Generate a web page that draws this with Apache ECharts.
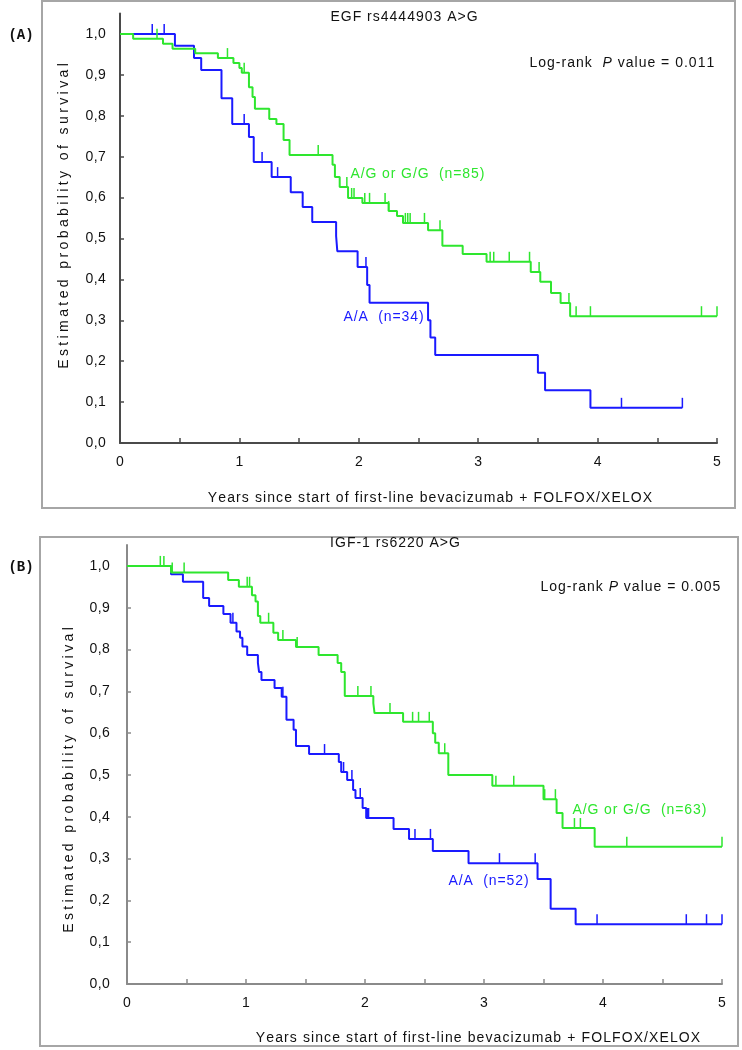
<!DOCTYPE html>
<html>
<head>
<meta charset="utf-8">
<script src="https://cdn.jsdelivr.net/npm/echarts@6/dist/echarts.min.js"></script>
<style>html,body{margin:0;padding:0;background:#fff}#c{width:742px;height:1050px}</style>
</head>
<body>
<div id="c"></div>
<script>
// ---------- axis ticks / labels ----------
const xTicks = [0, 0.5, 1, 1.5, 2, 2.5, 3, 3.5, 4, 4.5, 5];
const xLabels = [0, 1, 2, 3, 4, 5];
const yTicks = [0, 0.1, 0.2, 0.3, 0.4, 0.5, 0.6, 0.7, 0.8, 0.9, 1.0];

// ---------- Panel A: EGF rs4444903 ----------
const aGreenTime = [0, 0.11, 0.36, 0.44, 0.63, 0.82, 0.95, 1.00, 1.02, 1.08, 1.11, 1.13, 1.25, 1.31, 1.37, 1.42, 1.78, 1.80, 1.84, 1.91, 2.03, 2.25, 2.32, 2.37, 2.58, 2.70, 2.87, 3.07, 3.44, 3.52, 3.61, 3.69, 3.77, 5.00];
const aGreenSurv = [1.0, 0.988, 0.976, 0.964, 0.953, 0.941, 0.929, 0.917, 0.905, 0.87, 0.846, 0.817, 0.792, 0.78, 0.741, 0.704, 0.68, 0.65, 0.626, 0.599, 0.587, 0.567, 0.555, 0.538, 0.52, 0.482, 0.462, 0.443, 0.418, 0.394, 0.367, 0.342, 0.31, 0.31];
const aGreenCensor = [0.31, 0.90, 1.04, 1.66, 1.90, 1.94, 1.96, 2.05, 2.09, 2.22, 2.25, 2.39, 2.41, 2.43, 2.55, 2.68, 3.10, 3.13, 3.26, 3.43, 3.51, 3.61, 3.76, 3.82, 3.94, 4.87, 5.00];

const aBlueTime = [0, 0.46, 0.62, 0.68, 0.85, 0.94, 1.08, 1.12, 1.27, 1.43, 1.53, 1.61, 1.81, 1.82, 1.99, 2.07, 2.09, 2.58, 2.60, 2.64, 3.50, 3.56, 3.94, 4.71];
const aBlueSurv = [1.0, 0.971, 0.941, 0.912, 0.843, 0.78, 0.748, 0.687, 0.65, 0.613, 0.577, 0.54, 0.506, 0.469, 0.43, 0.386, 0.343, 0.30, 0.258, 0.215, 0.172, 0.129, 0.086, 0.086];
const aBlueCensor = [0.27, 0.37, 1.04, 1.19, 1.32, 2.06, 4.20, 4.71];

// ---------- Panel B: IGF-1 rs6220 ----------
const bGreenTime = [0, 0.37, 0.85, 0.94, 1.05, 1.08, 1.10, 1.12, 1.23, 1.27, 1.42, 1.61, 1.77, 1.80, 1.83, 2.07, 2.08, 2.32, 2.57, 2.59, 2.62, 2.70, 3.07, 3.50, 3.61, 3.66, 3.93, 5.00];
const bGreenSurv = [1.0, 0.984, 0.966, 0.95, 0.93, 0.915, 0.88, 0.864, 0.84, 0.823, 0.806, 0.787, 0.768, 0.746, 0.689, 0.672, 0.648, 0.627, 0.60, 0.577, 0.552, 0.50, 0.474, 0.442, 0.409, 0.373, 0.328, 0.328];
const bGreenCensor = [0.28, 0.31, 0.38, 0.48, 1.01, 1.03, 1.19, 1.31, 1.43, 1.94, 2.05, 2.21, 2.40, 2.45, 2.54, 2.67, 3.10, 3.25, 3.51, 3.60, 3.76, 3.81, 4.20, 5.00];

const bBlueTime = [0, 0.37, 0.47, 0.64, 0.69, 0.81, 0.87, 0.92, 0.95, 0.97, 1.01, 1.10, 1.11, 1.13, 1.24, 1.30, 1.34, 1.40, 1.42, 1.53, 1.78, 1.80, 1.85, 1.90, 1.92, 1.98, 2.01, 2.24, 2.37, 2.57, 2.87, 3.45, 3.56, 3.77, 5.00];
const bBlueSurv = [1.0, 0.98, 0.962, 0.923, 0.904, 0.885, 0.864, 0.843, 0.828, 0.807, 0.787, 0.768, 0.746, 0.727, 0.708, 0.687, 0.632, 0.608, 0.569, 0.55, 0.531, 0.507, 0.488, 0.464, 0.445, 0.421, 0.397, 0.371, 0.347, 0.318, 0.289, 0.251, 0.18, 0.143, 0.143];
const bBlueCensor = [0.89, 1.31, 1.66, 1.82, 1.89, 1.96, 2.02, 2.03, 2.42, 2.55, 3.13, 3.43, 3.95, 4.70, 4.87, 5.00];

// ---------- styling ----------
const GREEN = '#2ee62e';
const BLUE = '#1a1aff';
const FONT = '"Liberation Sans", Arial, sans-serif';
const FS = 14;

// letter-spaced text built from rich-text tokens
function spaced(str, name) {
  return Array.from(str).map(c => '{' + name + '|' + c + '}').join('');
}
function richStyle(size, color, sp, extra) {
  return Object.assign({ fontSize: size, fontFamily: FONT, fill: color, color: color,
    padding: [0, sp / 2, 0, sp / 2] }, extra || {});
}

function pairs(t, s) { return t.map((x, i) => [x, s[i]]); }
function survAt(t, s, x) {
  let v = s[0];
  for (let i = 0; i < t.length; i++) { if (t[i] <= x + 1e-9) v = s[i]; }
  return v;
}
function censorData(t, s, c) { return c.map(x => [x, survAt(t, s, x)]); }

function kmLine(name, t, s, color, xi, yi, z) {
  return { name, type: 'line', step: 'end', data: pairs(t, s), xAxisIndex: xi, yAxisIndex: yi,
    showSymbol: false, symbol: 'none', z: z, lineStyle: { color, width: 2 }, animation: false };
}
function censorSeries(t, s, c, color, xi, yi, z) {
  return { type: 'custom', xAxisIndex: xi, yAxisIndex: yi, z: z, animation: false,
    encode: { x: 0, y: 1 }, data: censorData(t, s, c),
    renderItem: function (params, api) {
      const p = api.coord([api.value(0), api.value(1)]);
      return { type: 'line', shape: { x1: p[0], y1: p[1], x2: p[0], y2: p[1] - 10 },
        style: { stroke: color, lineWidth: 1.5 } };
    } };
}

const TICKRICH = { t: { fontSize: 14, fontFamily: FONT, color: '#111', padding: [0, 0.2, 0, 0.2] } };

function xMain(grid, color) {
  return { gridIndex: grid, type: 'value', min: 0, max: 5, interval: 0.5,
    axisLine: { show: true, onZero: false, lineStyle: { color, width: 2 } },
    axisTick: { show: true, inside: true, length: 5, customValues: xTicks, lineStyle: { color, width: 1.5 } },
    axisLabel: { customValues: xLabels, margin: 12, rich: TICKRICH,
      formatter: v => spaced(String(v), 't') },
    splitLine: { show: false } };
}
function xOuter(grid, color) {
  return { gridIndex: grid, type: 'value', min: 0, max: 5, interval: 0.5,
    axisLine: { show: false }, axisTick: { show: true, inside: false, length: 4, customValues: xLabels, lineStyle: { color, width: 1.5 } },
    axisLabel: { show: false }, splitLine: { show: false } };
}
function yMain(grid, color, margin) {
  return { gridIndex: grid, type: 'value', min: 0, max: 1.05,
    axisLine: { show: true, onZero: false, lineStyle: { color, width: 2 } },
    axisTick: { show: true, inside: true, length: 4, customValues: yTicks, lineStyle: { color, width: 1.5 } },
    axisLabel: { customValues: yTicks, margin: margin, rich: TICKRICH,
      formatter: v => spaced(v.toFixed(1).replace('.', ','), 't') },
    splitLine: { show: false } };
}

function txt(x, y, text, color, sp, align, extra) {
  const rich = { s: richStyle(FS, color, sp), i: richStyle(FS, color, sp, { fontStyle: 'italic' }) };
  return Object.assign({ type: 'text', x: x, y: y, silent: true,
    style: { text: text, font: FS + 'px ' + FONT, fill: color, textAlign: align || 'left', textVerticalAlign: 'middle', rich: rich } }, extra || {});
}
function ytitle(x, y) {
  const rich = { s: richStyle(14, '#111', 3.4) };
  return { type: 'text', x: x, y: y, silent: true, rotation: Math.PI / 2,
    style: { text: spaced('Estimated probability of survival', 's'), font: '14px ' + FONT, fill: '#111',
      textAlign: 'center', textVerticalAlign: 'middle', rich: rich } };
}

const XTITLE = 'Years since start of first-line bevacizumab + FOLFOX/XELOX';

const chart = echarts.init(document.getElementById('c'), null, { renderer: 'canvas' });
chart.setOption({
  animation: false,
  backgroundColor: '#fff',
  grid: [
    { left: 120, top: 13.5, width: 597, height: 429.5 },
    { left: 127, top: 545, width: 595, height: 439 }
  ],
  xAxis: [xMain(0, '#4a4a4a'), xOuter(0, '#4a4a4a'), xMain(1, '#8a8a8a'), xOuter(1, '#8a8a8a')],
  yAxis: [yMain(0, '#4a4a4a', 14), yMain(1, '#8a8a8a', 17)],
  series: [
    kmLine('A/A', aBlueTime, aBlueSurv, BLUE, 0, 0, 2),
    kmLine('A/G or G/G', aGreenTime, aGreenSurv, GREEN, 0, 0, 3),
    censorSeries(aBlueTime, aBlueSurv, aBlueCensor, BLUE, 0, 0, 2),
    censorSeries(aGreenTime, aGreenSurv, aGreenCensor, GREEN, 0, 0, 3),
    kmLine('A/A', bBlueTime, bBlueSurv, BLUE, 2, 1, 2),
    kmLine('A/G or G/G', bGreenTime, bGreenSurv, GREEN, 2, 1, 3),
    censorSeries(bBlueTime, bBlueSurv, bBlueCensor, BLUE, 2, 1, 2),
    censorSeries(bGreenTime, bGreenSurv, bGreenCensor, GREEN, 2, 1, 3)
  ],
  graphic: [
    { type: 'rect', silent: true, shape: { x: 42, y: 1, width: 693, height: 507 }, style: { fill: 'none', stroke: '#a6a6a6', lineWidth: 2 } },
    { type: 'rect', silent: true, shape: { x: 40, y: 537, width: 698, height: 509 }, style: { fill: 'none', stroke: '#a6a6a6', lineWidth: 2 } },
    { type: 'text', x: 21, y: 35, silent: true, style: { text: '(A)', font: 'bold 14px "Liberation Mono", "Courier New", monospace', fill: '#111', textAlign: 'center', textVerticalAlign: 'middle' } },
    { type: 'text', x: 21, y: 567, silent: true, style: { text: '(B)', font: 'bold 14px "Liberation Mono", "Courier New", monospace', fill: '#111', textAlign: 'center', textVerticalAlign: 'middle' } },
    txt(404, 17, spaced('EGF rs4444903 A>G', 's'), '#111', 1.0, 'center'),
    txt(395, 543, spaced('IGF-1 rs6220 A>G', 's'), '#111', 1.0, 'center'),
    txt(529, 63, spaced('Log-rank  ', 's') + spaced('P', 'i') + spaced(' value = 0.011', 's'), '#111', 1.0),
    txt(540, 587, spaced('Log-rank ', 's') + spaced('P', 'i') + spaced(' value = 0.005', 's'), '#111', 1.0),
    txt(430, 498, spaced(XTITLE, 's'), '#111', 1.1, 'center'),
    txt(478, 1038, spaced(XTITLE, 's'), '#111', 1.1, 'center'),
    ytitle(64, 216),
    ytitle(69, 780),
    txt(350, 174, spaced('A/G or G/G  (n=85)', 's'), GREEN, 0.9),
    txt(343, 317, spaced('A/A  (n=34)', 's'), BLUE, 0.9),
    txt(572, 810, spaced('A/G or G/G  (n=63)', 's'), GREEN, 0.9),
    txt(448, 881, spaced('A/A  (n=52)', 's'), BLUE, 0.9)
  ]
});
</script>
</body>
</html>
